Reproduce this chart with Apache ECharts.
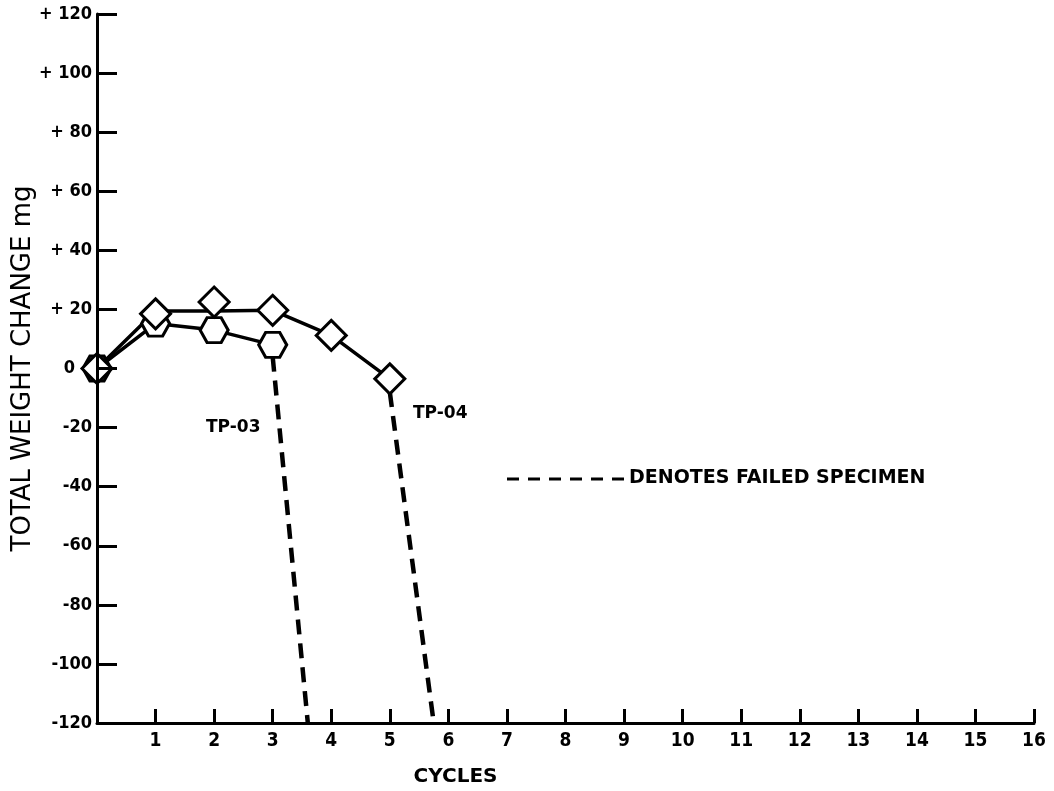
<!DOCTYPE html>
<html>
<head>
<meta charset="utf-8">
<script src="https://cdn.jsdelivr.net/npm/echarts@6/dist/echarts.min.js"></script>
<style>
html,body{margin:0;padding:0;background:#fff;}
#chart{width:1054px;height:791px;}
</style>
</head>
<body>
<div id="chart"></div>
<script>
// ---- data ----
var cycles = [0, 1, 2, 3, 4, 5];
var tp03Values = [0, 15.2, 13, 8];
var tp04LineValues = [0, 19.5, 19.5, 19.7, 11.2, -3.5];
var tp04MarkerValues = [0, 18.5, 22.5, 19.7, 11.2, -3.5];
var tp03Failure = [[3, 4], [3.6, -120]];
var tp04Failure = [[5, -8], [5.75, -120]];
var yTickValues = [-120, -100, -80, -60, -40, -20, 0, 20, 40, 60, 80, 100, 120];
var yTickLabels = ['-120', '-100', '-80', '-60', '-40', '-20', '0', '+ 20', '+ 40', '+ 60', '+ 80', '+ 100', '+ 120'];
var xTickLabels = ['', '1', '2', '3', '4', '5', '6', '7', '8', '9', '10', '11', '12', '13', '14', '15', '16'];

var hexPath = 'path://M0,43.3L25,0L75,0L100,43.3L75,86.6L25,86.6Z';
var FONT = '"DejaVu Sans", sans-serif';
var CFONT = '"DejaVu Sans Condensed", "DejaVu Sans", sans-serif';

function pairs(xs, ys) {
  var out = [];
  for (var i = 0; i < ys.length; i++) out.push([xs[i], ys[i]]);
  return out;
}

var chart = echarts.init(document.getElementById('chart'));
chart.setOption({
  backgroundColor: '#fff',
  animation: false,
  grid: {left: 97, right: 20, top: 14, bottom: 68, containLabel: false, outerBoundsMode: 'none'},
  xAxis: {
    type: 'value', min: 0, max: 16, interval: 1,
    name: 'CYCLES', nameLocation: 'middle', nameGap: 44, nameMoveOverlap: false,
    nameTextStyle: {fontFamily: FONT, fontSize: 20, fontWeight: 'bold', color: '#000', padding: [0, 220, 0, 0]},
    splitLine: {show: false},
    axisLine: {onZero: false, lineStyle: {color: '#000', width: 3}},
    axisTick: {inside: true, length: 14, lineStyle: {color: '#000', width: 3}},
    axisLabel: {
      margin: 9, color: '#000', fontFamily: CFONT, fontSize: 19, fontWeight: 'bold',
      formatter: function (v) { return xTickLabels[Math.round(v)] || ''; }
    }
  },
  yAxis: {
    type: 'value', min: -120, max: 120, interval: 20, z: 10,
    name: 'TOTAL WEIGHT CHANGE mg', nameLocation: 'middle', nameGap: 61, nameRotate: 90, nameMoveOverlap: false,
    nameTextStyle: {fontFamily: FONT, fontSize: 26, color: '#000'},
    splitLine: {show: false},
    axisLine: {onZero: false, lineStyle: {color: '#000', width: 3}},
    axisTick: {inside: true, length: 20, lineStyle: {color: '#000', width: 3}},
    axisLabel: {
      margin: 5, color: '#000', fontFamily: CFONT, fontSize: 18, fontWeight: 'bold',
      formatter: function (v) {
        var i = yTickValues.indexOf(v);
        if (i < 0) return '';
        return v === 0 ? '{zero|' + yTickLabels[i] + '}' : yTickLabels[i];
      },
      rich: {zero: {fontFamily: CFONT, fontSize: 18, fontWeight: 'bold', color: '#000', padding: [0, 17, 0, 0]}}
    }
  },
  graphic: [
    {type: 'text', left: 206, top: 419, style: {text: 'TP-03', fontFamily: FONT, fontSize: 17, fontWeight: 'bold', fill: '#000'}},
    {type: 'text', left: 413, top: 405, style: {text: 'TP-04', fontFamily: FONT, fontSize: 17, fontWeight: 'bold', fill: '#000'}},
    {type: 'line', shape: {x1: 507, y1: 479, x2: 628, y2: 479}, style: {stroke: '#000', lineWidth: 3, lineDash: [12, 9]}},
    {type: 'text', left: 629, top: 469, style: {text: 'DENOTES FAILED SPECIMEN', fontFamily: FONT, fontSize: 19, fontWeight: 'bold', fill: '#000'}}
  ],
  series: [
    {
      name: 'TP-03 failed', type: 'line', data: tp03Failure, showSymbol: false, z: 1,
      lineStyle: {color: '#000', width: 4.5, type: [15, 9]}
    },
    {
      name: 'TP-04 failed', type: 'line', data: tp04Failure, showSymbol: false, z: 1,
      lineStyle: {color: '#000', width: 4.5, type: [15, 9]}
    },
    {
      name: 'TP-04 line', type: 'line', data: pairs(cycles, tp04LineValues), showSymbol: false, z: 2,
      lineStyle: {color: '#000', width: 3.5}
    },
    {
      name: 'TP-03', type: 'line', data: pairs(cycles, tp03Values), z: 3,
      symbol: hexPath, symbolSize: [28, 25], showAllSymbol: true,
      itemStyle: {color: '#fff', borderColor: '#000', borderWidth: 3, opacity: 1},
      lineStyle: {color: '#000', width: 3.5}
    },
    {
      name: 'TP-04', type: 'scatter', data: pairs(cycles, tp04MarkerValues), z: 4,
      symbol: 'diamond', symbolSize: [30, 30],
      itemStyle: {color: '#fff', borderColor: '#000', borderWidth: 3, opacity: 1}
    }
  ]
});
</script>
</body>
</html>
